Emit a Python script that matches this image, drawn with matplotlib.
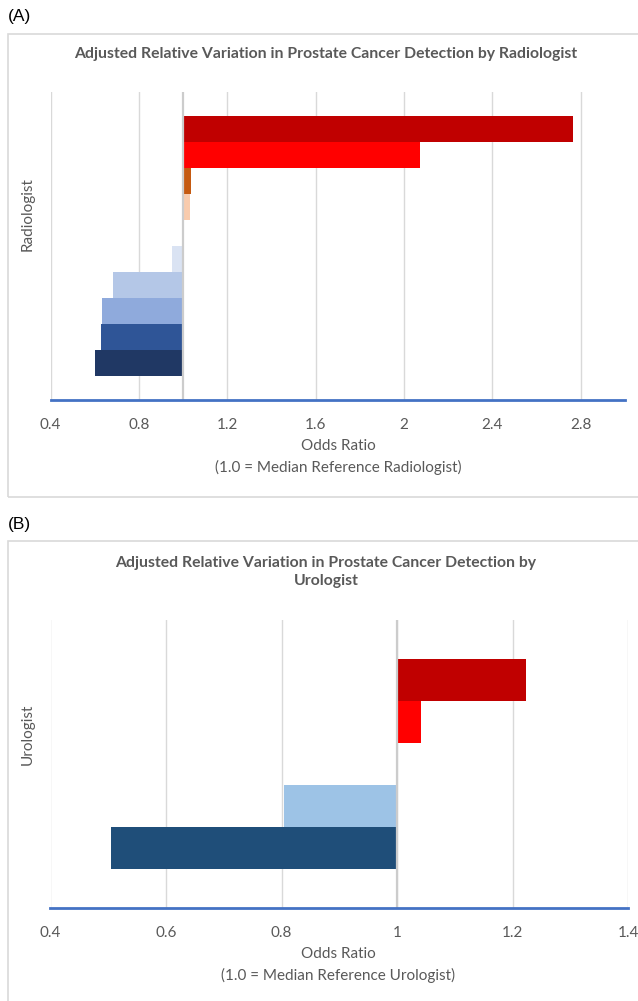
import matplotlib
matplotlib.use("Agg")
import matplotlib.pyplot as plt
from matplotlib.patches import Rectangle

# ---------------- data ----------------
radiologist_or = [0.600, 0.628, 0.633, 0.682, 0.950, 1.000, 1.030, 1.036, 2.070, 2.763]
radiologist_colors = ["#203864", "#2f5597", "#8faadc", "#b4c7e7", "#dae3f3",
                      "#ffffff", "#f8cbad", "#c55a11", "#ff0000", "#c00000"]
radiologist_ticks = [0.4, 0.8, 1.2, 1.6, 2.0, 2.4, 2.8]
radiologist_ticklabels = ["0.4", "0.8", "1.2", "1.6", "2", "2.4", "2.8"]

urologist_or = [0.505, 0.804, 1.000, 1.041, 1.224]
urologist_colors = ["#1f4e79", "#9dc3e6", "#ffffff", "#ff0000", "#c00000"]
urologist_ticks = [0.4, 0.6, 0.8, 1.0, 1.2, 1.4]
urologist_ticklabels = ["0.4", "0.6", "0.8", "1", "1.2", "1.4"]

title_a = "Adjusted Relative Variation in Prostate Cancer Detection by Radiologist"
title_b = "Adjusted Relative Variation in Prostate Cancer Detection by\nUrologist"
xlabel_a = "Odds Ratio\n(1.0 = Median Reference Radiologist)"
xlabel_b = "Odds Ratio\n(1.0 = Median Reference Urologist)"

# ---------------- layout ----------------
W, H = 638, 1001
fig = plt.figure(figsize=(W / 100, H / 100), dpi=100)
FONT = ["Lato", "DejaVu Sans"]
GRAY = "#595959"


def fx(px):
    return px / W


def fy(py):
    return 1 - py / H


def add_box(y0, y1):
    fig.patches.append(Rectangle((fx(8), fy(y1)), fx(640) - fx(8), fy(y0) - fy(y1),
                                 transform=fig.transFigure, fill=False,
                                 edgecolor="#d9d9d9", linewidth=1.2))


def panel(x0, x1, y_top, y_bot, values, colors, xlim, ticks, ticklabels):
    ax = fig.add_axes([fx(x0), fy(y_bot), fx(x1) - fx(x0), fy(y_top) - fy(y_bot)])
    n = len(values)
    ypos = list(range(n))
    widths = [v - 1.0 for v in values]
    ax.barh(ypos, widths, left=1.0, height=1.0, color=colors, linewidth=0, zorder=2)
    ax.set_xlim(*xlim)
    ax.set_ylim(-0.5 - 0.92, n - 0.5 + 0.92)
    ax.set_xticks(ticks)
    ax.set_xticklabels(ticklabels, fontsize=11, color=GRAY, family=FONT)
    ax.set_yticks([])
    ax.tick_params(axis="x", length=0, pad=13)
    ax.grid(axis="x", color="#d9d9d9", linewidth=1.0, zorder=0)
    ax.set_axisbelow(True)
    ax.axvline(1.0, color="#cccccc", linewidth=1.6, zorder=3)
    for s in ["top", "right", "left"]:
        ax.spines[s].set_visible(False)
    ax.spines["bottom"].set_color("#4472c4")
    ax.spines["bottom"].set_linewidth(2.0)
    ax.spines["bottom"].set_zorder(4)
    return ax


# Panel A
fig.text(fx(8), fy(17), "(A)", fontsize=12.5, family=["Liberation Sans"],
         ha="left", va="center", color="black")
add_box(34, 497)
panel(50.5, 625, 92, 400, radiologist_or, radiologist_colors, (0.4, 3.0),
      radiologist_ticks, radiologist_ticklabels)
fig.text(fx(326), fy(54), title_a, fontsize=11.3, fontweight="bold", family=FONT,
         color=GRAY, ha="center", va="center")
fig.text(fx(28), fy(214), "Radiologist", fontsize=11, family=FONT, color=GRAY,
         rotation=90, ha="center", va="center")
fig.text(fx(338), fy(457), xlabel_a, fontsize=11, family=FONT, color=GRAY,
         ha="center", va="center", linespacing=1.6)

# Panel B
fig.text(fx(8), fy(524), "(B)", fontsize=12.5, family=["Liberation Sans"],
         ha="left", va="center", color="black")
add_box(541, 1010)
panel(50.5, 628, 620, 908, urologist_or, urologist_colors, (0.4, 1.4),
      urologist_ticks, urologist_ticklabels)
fig.text(fx(326), fy(572), title_b, fontsize=11.3, fontweight="bold", family=FONT,
         color=GRAY, ha="center", va="center", linespacing=1.3)
fig.text(fx(28), fy(734), "Urologist", fontsize=11, family=FONT, color=GRAY,
         rotation=90, ha="center", va="center")
fig.text(fx(338), fy(965), xlabel_b, fontsize=11, family=FONT, color=GRAY,
         ha="center", va="center", linespacing=1.6)

fig.savefig("out.png", dpi=100, facecolor="white")
